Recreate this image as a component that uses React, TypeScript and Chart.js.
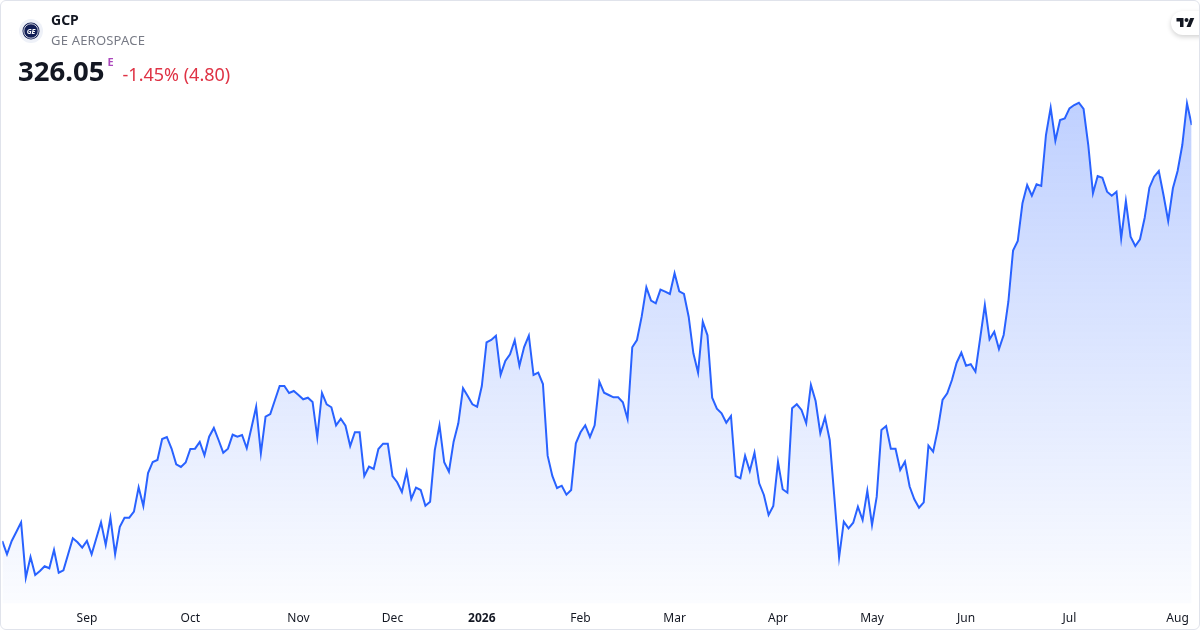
import React, { useEffect, useRef } from "react";
import { Chart, registerables } from "chart.js";

Chart.register(...registerables);

// Daily closing prices (one point per trading day)
const prices: number[] = [
  234.03, 231.09, 234.03, 236.09, 238.17, 225.91, 230.49, 226.51, 227.39, 228.43,
  227.99, 232.04, 227.02, 227.55, 231.09, 234.63, 233.74, 232.55, 234.03, 231.09,
  234.63, 238.17, 233.15, 239.18, 231.09, 237.19, 239.18, 239.18, 240.51, 245.91,
  241.77, 249.07, 251.51, 251.95, 256.59, 257.04, 254.49, 251.0, 250.4, 251.39,
  254.38, 254.45, 255.93, 252.99, 257.1, 259.03, 256.37, 253.56, 254.45, 257.54,
  257.1, 257.48, 254.54, 259.09, 263.74, 253.43, 261.53, 262.12, 265.22, 268.32,
  268.32, 266.77, 267.21, 266.33, 265.37, 265.73, 264.78, 256.97, 266.77, 264.27,
  263.61, 259.62, 261.08, 259.54, 255.04, 258.08, 258.08, 248.41, 250.47, 249.96,
  254.38, 255.55, 255.55, 248.41, 247.02, 244.87, 249.36, 243.32, 245.82, 245.31,
  241.84, 242.72, 254.16, 259.62, 251.44, 249.36, 256.0, 260.07, 267.81, 266.1,
  264.27, 263.74, 268.32, 277.98, 278.49, 279.44, 270.82, 273.85, 275.33, 278.43,
  272.81, 276.94, 279.44, 270.75, 271.26, 268.76, 252.9, 248.41, 245.75, 246.26,
  244.27, 245.31, 255.64, 258.08, 259.62, 257.04, 259.62, 269.27, 266.84, 266.33,
  265.82, 265.82, 264.71, 261.02, 276.88, 278.49, 283.65, 290.15, 287.19, 286.61,
  289.62, 289.18, 288.67, 293.25, 289.26, 288.67, 283.65, 275.55, 271.26, 282.54,
  279.53, 265.73, 263.3, 262.28, 260.2, 261.68, 248.41, 247.9, 252.9, 249.51,
  253.56, 246.79, 244.21, 239.78, 241.77, 251.51, 245.47, 244.71, 263.38, 264.27,
  263.01, 260.07, 268.54, 265.0, 257.85, 261.39, 256.37, 243.54, 230.43, 238.3,
  236.84, 238.08, 241.62, 238.68, 245.16, 237.57, 243.83, 258.58, 259.47, 254.45,
  254.45, 249.74, 251.57, 246.09, 243.25, 241.4, 242.59, 255.11, 253.78, 258.74,
  265.22, 266.7, 269.64, 273.47, 275.68, 272.81, 273.12, 271.48, 278.87, 286.23,
  278.65, 280.33, 276.5, 279.6, 286.96, 298.29, 300.39, 308.73, 312.78, 310.41,
  312.93, 312.56, 323.84, 329.88, 322.58, 327.16, 327.53, 329.74, 330.47, 330.98,
  329.59, 321.63, 310.94, 314.77, 314.39, 311.3, 310.41, 311.3, 300.99, 309.24,
  301.34, 299.28, 300.77, 305.54, 312.18, 314.61, 315.87, 310.57, 304.81, 312.05,
  315.87, 321.63, 330.85, 326.05,
];

// Month tick positions (trading-day index of each month's first session)
const monthTickIndex: number[] = [18, 40, 63, 83, 102, 123, 143, 165, 185, 205, 227, 250];
const monthTickLabels: string[] = [
  "Sep", "Oct", "Nov", "Dec", "2026", "Feb", "Mar", "Apr", "May", "Jun", "Jul", "Aug",
];

const yMin = 220.18;
const yMax = 332.69;

const symbol = "GCP";
const companyName = "GE AEROSPACE";
const lastPrice = "326.05";
const changeText = "-1.45% (4.80)";

const FONT = "'Noto Sans', 'DejaVu Sans', sans-serif";

export default function App() {
  const canvasRef = useRef<HTMLCanvasElement | null>(null);

  useEffect(() => {
    if (!canvasRef.current) return;
    const chart = new Chart(canvasRef.current, {
      type: "line",
      data: {
        datasets: [
          {
            data: prices.map((y, i) => ({ x: i, y })),
            borderColor: "#2962ff",
            borderWidth: 2,
            pointRadius: 0,
            pointHoverRadius: 0,
            tension: 0,
            fill: "start",
            backgroundColor: (context: any) => {
              const { chart: c } = context;
              const area = c.chartArea;
              if (!area) return "rgba(41,98,255,0.15)";
              const g = c.ctx.createLinearGradient(0, area.top, 0, area.bottom);
              g.addColorStop(0, "rgba(41,98,255,0.30)");
              g.addColorStop(1, "rgba(41,98,255,0.02)");
              return g;
            },
          },
        ],
      },
      options: {
        animation: false,
        responsive: false,
        events: [],
        layout: { padding: { left: 2.3, right: 8.3, top: 95, bottom: 0 } },
        plugins: {
          legend: { display: false },
          tooltip: { enabled: false },
        },
        scales: {
          x: {
            type: "linear",
            min: 0,
            max: prices.length - 1,
            grid: { display: false, drawTicks: false },
            border: { display: false },
            afterBuildTicks: (scale: any) => {
              scale.ticks = monthTickIndex.map((v) => ({ value: v }));
            },
            ticks: {
              autoSkip: false,
              maxRotation: 0,
              padding: 8,
              color: "#131722",
              font: (ctx: any) => ({
                family: FONT,
                size: 12,
                weight: monthTickLabels[ctx.index] === "2026" ? "bold" : "normal",
              }),
              callback: (_v: any, index: number) => monthTickLabels[index],
            },
          },
          y: {
            display: false,
            min: yMin,
            max: yMax,
          },
        },
      },
    });
    return () => chart.destroy();
  }, []);

  return (
    <div
      style={{
        position: "absolute",
        left: 0,
        top: 0,
        width: 1200,
        height: 630,
        overflow: "hidden",
        background: "#ffffff",
        fontFamily: FONT,
      }}
    >
      <canvas
        ref={canvasRef}
        width={1200}
        height={634}
        style={{ position: "absolute", left: 0, top: 0, width: 1200, height: 634 }}
      />
      {/* logo */}
      <svg
        width={26}
        height={26}
        viewBox="0 0 26 26"
        style={{ position: "absolute", left: 18, top: 18 }}
      >
        <circle cx={13} cy={13} r={12} fill="#eef1f8" />
        <circle cx={13} cy={13} r={8.5} fill="#101d55" />
        <circle cx={13} cy={13} r={7.2} fill="none" stroke="#ffffff" strokeWidth={0.8} />
        <text
          x={13}
          y={15.6}
          textAnchor="middle"
          fontSize={7}
          fontStyle="italic"
          fontWeight="bold"
          fill="#ffffff"
          fontFamily={FONT}
        >
          GE
        </text>
      </svg>
      <div
        style={{
          position: "absolute",
          left: 51,
          top: 10,
          fontSize: 14,
          fontWeight: 700,
          color: "#131722",
          lineHeight: "20px",
        }}
      >
        {symbol}
      </div>
      <div
        style={{
          position: "absolute",
          left: 51,
          top: 31,
          fontSize: 13,
          color: "#787b86",
          lineHeight: "18px",
          letterSpacing: 0.2,
        }}
      >
        {companyName}
      </div>
      <div
        style={{
          position: "absolute",
          left: 18,
          top: 55,
          display: "flex",
          alignItems: "baseline",
          whiteSpace: "nowrap",
        }}
      >
        <span style={{ fontSize: 27.5, fontWeight: 700, color: "#131722", lineHeight: "32px" }}>
          {lastPrice}
        </span>
        <span
          style={{
            fontSize: 11,
            fontWeight: 700,
            color: "#ab47bc",
            position: "relative",
            top: -15,
            marginLeft: 3,
          }}
        >
          E
        </span>
        <span style={{ fontSize: 18, color: "#df3345", marginLeft: 9 }}>{changeText}</span>
      </div>
      {/* TradingView badge */}
      <div
        style={{
          position: "absolute",
          left: 1171,
          top: 11,
          width: 44,
          height: 24,
          borderRadius: 12,
          background: "#ffffff",
          boxShadow: "0 2px 5px rgba(0,0,0,0.18)",
        }}
      >
        <svg
          width={19}
          height={14}
          viewBox="0 0 36 28"
          style={{ position: "absolute", left: 5, top: 5 }}
        >
          <path d="M14 22H7V11H0V4h14v18z" fill="#131722" />
          <path d="M28 22h-8l7.5-18h8L28 22z" fill="#131722" />
          <circle cx={20} cy={8} r={4} fill="#131722" />
        </svg>
      </div>
      {/* card border */}
      <div
        style={{
          position: "absolute",
          left: 0,
          top: 0,
          width: 1200,
          height: 630,
          boxSizing: "border-box",
          border: "1px solid #e0e3eb",
          borderRadius: 6,
          pointerEvents: "none",
        }}
      />
    </div>
  );
}
